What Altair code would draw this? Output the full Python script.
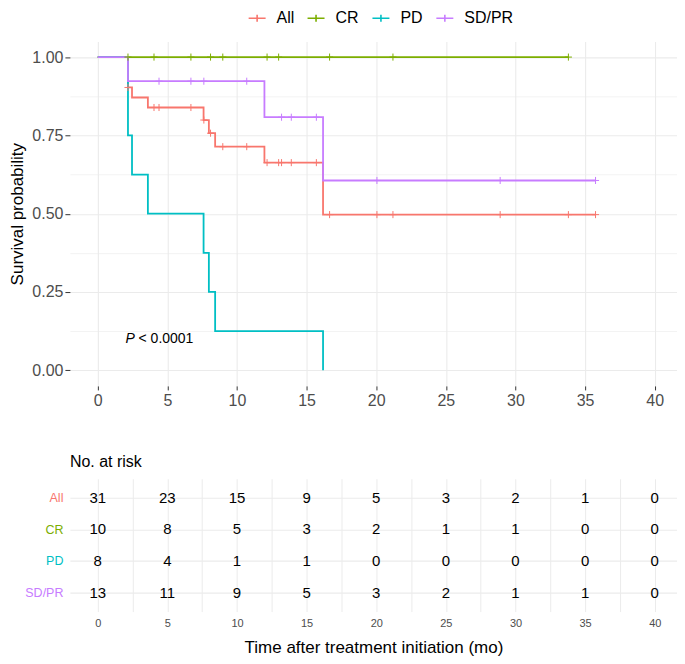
import altair as alt
import pandas as pd

groups = ["All", "CR", "PD", "SD/PR"]
colors = ["#F8766D", "#7CAE00", "#00BFC4", "#C77CFF"]

# Kaplan-Meier step curves (time in months, survival)
all_time = [0, 2.17, 2.46, 3.6, 7.6, 7.98, 8.43, 11.97, 16.18, 35.75]
all_surv = [1.0, 0.903, 0.871, 0.839, 0.799, 0.757, 0.714, 0.663, 0.497, 0.497]
cr_time = [0, 33.8]
cr_surv = [1.0, 1.0]
pd_time = [0, 2.17, 2.46, 3.6, 7.6, 7.98, 8.43, 16.18]
pd_surv = [1.0, 0.75, 0.625, 0.5, 0.375, 0.25, 0.125, 0.0]
sd_time = [0, 2.17, 11.97, 16.18, 35.75]
sd_surv = [1.0, 0.923, 0.808, 0.606, 0.606]

# censoring marks
all_cens_t = [2.17, 4.04, 4.4, 6.69, 7.62, 8.1, 8.98, 10.7, 12.16, 12.99, 13.2, 13.9, 15.7,
              16.65, 20.05, 21.2, 28.9, 33.8, 35.75]
all_cens_s = [0.903, 0.839, 0.839, 0.839, 0.799, 0.757, 0.714, 0.714, 0.663, 0.663, 0.663, 0.663, 0.663,
              0.497, 0.497, 0.497, 0.497, 0.497, 0.497]
cr_cens_t = [2.17, 4.04, 6.69, 8.1, 8.98, 12.16, 12.99, 16.65, 21.2, 33.8]
cr_cens_s = [1.0, 1.0, 1.0, 1.0, 1.0, 1.0, 1.0, 1.0, 1.0, 1.0]
sd_cens_t = [4.4, 6.69, 7.62, 10.7, 13.2, 13.9, 15.7, 20.05, 28.9, 35.75]
sd_cens_s = [0.923, 0.923, 0.923, 0.923, 0.808, 0.808, 0.808, 0.606, 0.606, 0.606]

# number at risk table
risk_times = [0, 5, 10, 15, 20, 25, 30, 35, 40]
risk_all = [31, 23, 15, 9, 5, 3, 2, 1, 0]
risk_cr = [10, 8, 5, 3, 2, 1, 1, 0, 0]
risk_pd = [8, 4, 1, 1, 0, 0, 0, 0, 0]
risk_sd = [13, 11, 9, 5, 3, 2, 1, 1, 0]

axis_values_x = [0, 2.5, 5, 7.5, 10, 12.5, 15, 17.5, 20, 22.5, 25, 27.5, 30, 32.5, 35, 37.5, 40]
axis_values_y = [0, 0.125, 0.25, 0.375, 0.5, 0.625, 0.75, 0.875, 1.0]

p_label_pos = (2.0, 0.1)

rows = []
for g, ts, ss in [("All", all_time, all_surv), ("CR", cr_time, cr_surv),
                  ("PD", pd_time, pd_surv), ("SD/PR", sd_time, sd_surv)]:
    for i, (t, s) in enumerate(zip(ts, ss)):
        rows.append({"group": g, "time": t, "surv": s, "idx": i})
curves = pd.DataFrame(rows)

crows = []
for g, ts, ss in [("All", all_cens_t, all_cens_s), ("CR", cr_cens_t, cr_cens_s),
                  ("SD/PR", sd_cens_t, sd_cens_s)]:
    for t, s in zip(ts, ss):
        crows.append({"group": g, "time": t, "surv": s})
cens = pd.DataFrame(crows)

rrows = []
for g, vals in [("All", risk_all), ("CR", risk_cr), ("PD", risk_pd), ("SD/PR", risk_sd)]:
    for t, v in zip(risk_times, vals):
        rrows.append({"group": g, "time": t, "n": v})
risk = pd.DataFrame(rrows)

FONT = "Liberation Sans"
GRID = "#EBEBEB"
PANEL_W = 608
xscale = alt.Scale(domain=[-2, 41.6], nice=False, zero=False)
yscale = alt.Scale(domain=[-0.05, 1.05], nice=False, zero=False)
cscale = alt.Scale(domain=groups, range=colors)

minor_x = "datum.value % 5 !== 0"
minor_y = "datum.value * 4 !== round(datum.value * 4)"

x_axis_top = alt.Axis(
    values=axis_values_x, title=None, domain=False,
    labelExpr="datum.value % 5 === 0 ? datum.label : ''",
    labelFontSize=16, labelColor="#4D4D4D", labelPadding=3,
    tickSize=4, tickWidth=1,
    tickColor={"condition": {"test": minor_x, "value": "transparent"}, "value": "#333333"},
    grid=True, gridColor=GRID,
    gridWidth={"condition": {"test": minor_x, "value": 0.6}, "value": 1.1},
)
y_axis_top = alt.Axis(
    values=axis_values_y, title="Survival probability", domain=False,
    labelExpr="datum.value * 4 === round(datum.value * 4) ? format(datum.value, '.2f') : ''",
    labelFontSize=16, labelColor="#4D4D4D", labelPadding=2,
    tickSize=5, tickWidth=1,
    tickColor={"condition": {"test": minor_y, "value": "transparent"}, "value": "#333333"},
    grid=True, gridColor=GRID,
    gridWidth={"condition": {"test": minor_y, "value": 0.6}, "value": 1.1},
    titleFontSize=17, titleFontWeight="normal", titleColor="black", titlePadding=5,
)

legend = alt.Legend(
    title=None, orient="none", direction="horizontal", legendX=178, legendY=-33,
    symbolType="M-1,0L1,0M0,-0.41L0,0.41", symbolSize=289, symbolStrokeWidth=1.6,
    symbolFillColor="transparent",
    labelFontSize=16, labelColor="black", labelOffset=10, columnPadding=9,
)

xenc = alt.X("time:Q", scale=xscale, axis=x_axis_top)
yenc = alt.Y("surv:Q", scale=yscale, axis=y_axis_top)

# one layer per group so that the drawing order matches the reference (SD/PR on top)
line_layers = []
for g in groups:
    line_layers.append(
        alt.Chart(curves).transform_filter(alt.datum.group == g)
        .mark_line(interpolate="step-after", strokeWidth=1.8)
        .encode(
            x=xenc, y=yenc,
            color=alt.Color("group:N", scale=cscale, legend=legend),
            order=alt.Order("idx:Q"),
        )
    )

marks = alt.Chart(cens).mark_point(
    shape="M0,-1L0,1M-1,0L1,0", filled=False, size=50, strokeWidth=1, opacity=1
).encode(
    x=alt.X("time:Q", scale=xscale),
    y=alt.Y("surv:Q", scale=yscale),
    color=alt.Color("group:N", scale=cscale, legend=legend),
)
p_italic = alt.Chart().mark_text(
    text="P", fontStyle="italic", fontSize=14, align="left", baseline="middle", color="black"
).encode(x=alt.datum(p_label_pos[0]), y=alt.datum(p_label_pos[1]))
p_rest = alt.Chart().mark_text(
    text="< 0.0001", fontSize=14, align="left", baseline="middle", color="black", dx=13
).encode(x=alt.datum(p_label_pos[0]), y=alt.datum(p_label_pos[1]))

top = alt.layer(*line_layers, marks, p_italic, p_rest).properties(width=PANEL_W, height=345)

x_axis_risk = alt.Axis(
    values=axis_values_x, title="Time after treatment initiation (mo)", domain=False,
    labelExpr="datum.value % 5 === 0 ? datum.label : ''",
    labelFontSize=11, labelColor="#4D4D4D", labelPadding=6, ticks=False,
    grid=True, gridColor=GRID, gridWidth=1.0,
    titleFontSize=17, titleFontWeight="normal", titleColor="black", titlePadding=11,
)
y_axis_risk = alt.Axis(
    title=None, domain=False, ticks=False, labelPadding=7, labelFontSize=12.5,
    labelColor={"condition": [
        {"test": "datum.value === 'All'", "value": colors[0]},
        {"test": "datum.value === 'CR'", "value": colors[1]},
        {"test": "datum.value === 'PD'", "value": colors[2]},
    ], "value": colors[3]},
    grid=True, gridColor=GRID, gridWidth=1.1,
)
risk_chart = alt.Chart(risk).mark_text(fontSize=15, color="black", baseline="middle").encode(
    x=alt.X("time:Q", scale=xscale, axis=x_axis_risk),
    y=alt.Y("group:N", scale=alt.Scale(type="point", domain=groups, padding=0.6), axis=y_axis_risk),
    text="n:Q",
).properties(
    width=PANEL_W, height=133,
    title=alt.TitleParams("No. at risk", anchor="start", frame="group", fontSize=16,
                          fontWeight="normal", color="black", offset=9),
)

chart = alt.vconcat(top, risk_chart, spacing=93, bounds="flush").resolve_scale(
    y="independent"
).properties(
    padding={"left": 0, "top": 0, "right": 0, "bottom": 0}
).configure(font=FONT).configure_view(stroke=None)

chart.save("out.html", embed_options={"renderer": "svg", "actions": False})
